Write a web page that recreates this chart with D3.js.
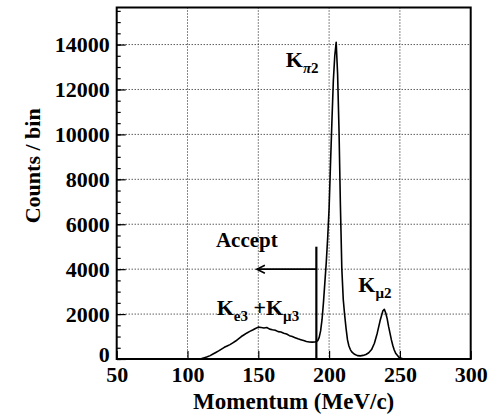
<!DOCTYPE html>
<html>
<head>
<meta charset="utf-8">
<script src="https://cdn.jsdelivr.net/npm/d3@7"></script>
<style>
  body { margin: 0; background: #fff; }
  text { font-family: "Liberation Serif", "Times New Roman", serif; font-weight: bold; }
</style>
</head>
<body>
<div class="main"></div>
<script>
// momentum spectrum (MeV/c, counts per bin)
const momentum = [
  100, 106, 108, 110, 112, 114, 116, 118, 120, 122, 124, 126, 128, 130, 132, 134, 136, 138,
  140, 142, 144, 146, 148, 150, 152, 154, 156, 158, 160, 162, 164, 166, 168, 170, 172, 174,
  176, 178, 180, 182, 184, 186, 188, 190, 191, 192, 193, 194, 195, 196, 197, 198, 199, 200,
  201, 202, 203, 204, 205, 206, 207, 208, 209, 210, 211, 212, 213, 214, 215, 216, 217, 218,
  220, 222, 224, 226, 228, 230, 232, 234, 236, 238, 239, 240, 241, 242, 243, 244, 245, 246,
  247, 248, 249, 250, 252, 254, 300
];
const counts = [
  0, 0, 0, 20, 60, 100, 150, 220, 290, 360, 440, 520, 580, 640, 720, 800, 900, 1000,
  1080, 1160, 1230, 1290, 1360, 1420, 1400, 1380, 1400, 1330, 1300, 1280, 1220, 1200, 1150, 1110, 1040, 1000,
  950, 900, 860, 820, 780, 760, 750, 760, 780, 820, 960, 1250, 1750, 2500, 3400, 4300, 5400, 6700,
  8700, 10600, 12400, 13500, 14100, 12700, 10200, 6800, 4000, 2650, 1950, 1350, 850, 580, 420, 320, 260, 210,
  150, 140, 160, 200, 280, 420, 700, 1150, 1700, 2150, 2210, 2050, 1800, 1450, 1150, 850, 600, 400,
  260, 180, 100, 50, 10, 0, 0
];

const xTicks = [50, 100, 150, 200, 250, 300];
const yTicks = [0, 2000, 4000, 6000, 8000, 10000, 12000, 14000];

// acceptance cut
const cutMomentum = 191;
const cutTop = 5000;
const arrowLevel = 4000;
const arrowEnd = 149;

const serif = '"Liberation Serif", "Times New Roman", serif';
const margin = { top: 7.5, right: 27.3, bottom: 61, left: 116.7 };
const fullwidth = 498;
const fullheight = 420;
const width = fullwidth - margin.left - margin.right;
const height = fullheight - margin.top - margin.bottom;

const svg = d3.select(".main")
  .append("svg")
  .attr("width", fullwidth)
  .attr("height", fullheight)
  .append("g")
  .attr("transform", "translate(" + margin.left + "," + margin.top + ")");

const x = d3.scaleLinear().domain([50, 300]).range([0, width]);
const y = d3.scaleLinear().domain([0, 15650]).range([height, 0]);

// dotted grid
svg.append("g")
  .selectAll("line")
  .data(xTicks.slice(1, -1))
  .join("line")
  .attr("x1", d => x(d)).attr("x2", d => x(d))
  .attr("y1", 0).attr("y2", height)
  .attr("stroke", "#111").attr("stroke-width", 1)
  .attr("stroke-dasharray", "1,2");
svg.append("g")
  .selectAll("line")
  .data(yTicks.slice(1))
  .join("line")
  .attr("x1", 0).attr("x2", width)
  .attr("y1", d => y(d)).attr("y2", d => y(d))
  .attr("stroke", "#111").attr("stroke-width", 1)
  .attr("stroke-dasharray", "1,2");

// minor ticks on y
svg.append("g")
  .call(d3.axisLeft(y).tickValues(d3.range(0, 15650, 500)).tickSize(-4).tickFormat(""))
  .call(g => g.select(".domain").remove())
  .selectAll("line").attr("stroke-width", 1.2);

// y axis
const yAxis = svg.append("g")
  .call(d3.axisLeft(y).tickValues(yTicks).tickSize(-9).tickPadding(7).tickFormat(d3.format("d")));
yAxis.select(".domain").remove();
yAxis.selectAll("line").attr("stroke-width", 1.2);
yAxis.selectAll("text")
  .style("font-size", "22px")
  .style("font-family", serif)
  .attr("fill", "#000")
  .attr("dy", d => d === 0 ? "0.12em" : "0.32em");

// x axis
const xAxis = svg.append("g")
  .attr("transform", "translate(0," + height + ")")
  .call(d3.axisBottom(x).tickValues(xTicks).tickSize(-8).tickPadding(7));
xAxis.select(".domain").remove();
xAxis.selectAll("line").attr("stroke-width", 1.2);
xAxis.selectAll("text")
  .style("font-size", "22px")
  .style("font-family", serif)
  .attr("fill", "#000");

// frame
svg.append("rect")
  .attr("width", width).attr("height", height)
  .attr("fill", "none").attr("stroke", "#000").attr("stroke-width", 2);

// spectrum
const data = momentum.map((m, i) => ({ m: m, c: counts[i] }));
svg.append("path")
  .datum(data)
  .attr("fill", "none")
  .attr("stroke", "#000")
  .attr("stroke-width", 1.6)
  .attr("stroke-linejoin", "round")
  .attr("d", d3.line().x(d => x(d.m)).y(d => y(d.c)));

// cut line and arrow
svg.append("line")
  .attr("x1", x(cutMomentum)).attr("x2", x(cutMomentum))
  .attr("y1", y(0)).attr("y2", y(cutTop))
  .attr("stroke", "#000").attr("stroke-width", 2.2);
svg.append("line")
  .attr("x1", x(cutMomentum)).attr("x2", x(arrowEnd))
  .attr("y1", y(arrowLevel)).attr("y2", y(arrowLevel))
  .attr("stroke", "#000").attr("stroke-width", 1.8);
svg.append("path")
  .attr("d", "M" + (x(arrowEnd) + 8) + "," + (y(arrowLevel) - 4) +
    "L" + x(arrowEnd) + "," + y(arrowLevel) +
    "L" + (x(arrowEnd) + 8) + "," + (y(arrowLevel) + 4))
  .attr("fill", "none").attr("stroke", "#000").attr("stroke-width", 1.6);

// annotations
svg.append("text")
  .attr("x", x(120.1)).attr("y", y(5000))
  .style("font-size", "21px")
  .text("Accept");

function label(m, c, parts) {
  const t = svg.append("text").attr("x", x(m)).attr("y", y(c)).style("font-size", "22px");
  parts.forEach(p => {
    const s = t.append("tspan").text(p.t);
    if (p.sub) s.style("font-size", "15px");
    if (p.dy) s.attr("dy", p.dy);
    if (p.it) s.style("font-style", "italic");
  });
}
label(169.4, 13019, [{ t: "K" }, { t: "π", sub: true, it: true, dy: 6.5 }, { t: "2", sub: true }]);
label(220.6, 2998, [{ t: "K" }, { t: "μ2", sub: true, dy: 6.5 }]);
label(120.6, 1960, [{ t: "K" }, { t: "e3", sub: true, dy: 6.5 }, { t: " +K", dy: -6.5 }, { t: "μ3", sub: true, dy: 6.5 }]);

// axis titles
svg.append("text")
  .attr("x", width / 2).attr("y", height + 50)
  .attr("text-anchor", "middle")
  .style("font-size", "23px")
  .text("Momentum (MeV/c)");
svg.append("text")
  .attr("transform", "translate(" + (-77) + "," + (165.8 - margin.top) + ") rotate(-90)")
  .attr("text-anchor", "middle")
  .style("font-size", "22px")
  .text("Counts / bin");
</script>
</body>
</html>
